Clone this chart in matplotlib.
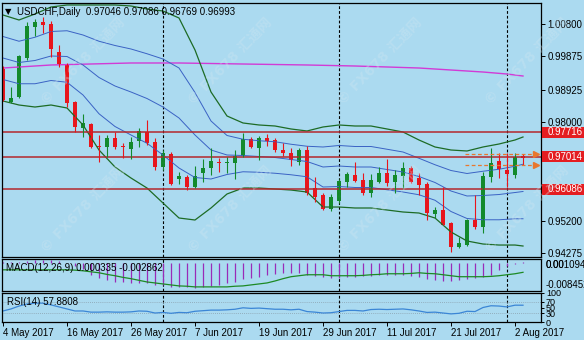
import numpy as np
import matplotlib
matplotlib.use("Agg")
import matplotlib.pyplot as plt
import matplotlib.transforms as mtransforms
from matplotlib.patches import Rectangle

plt.rcParams['font.family'] = ['Liberation Sans', 'DejaVu Sans']

# --- USDCHF daily bars, 4 May 2017 .. 3 Aug 2017 ---
opens = [0.99518, 0.98578, 0.98720, 0.99831, 1.00715, 1.00857, 1.00800, 1.00002, 0.99632, 0.98578,
         0.97837, 0.97951, 0.97324, 0.97296, 0.97552, 0.97324, 0.97239, 0.97467, 0.97723, 0.97438,
         0.96726, 0.97096, 0.96384, 0.96441, 0.96156, 0.96555, 0.96697, 0.96868, 0.96840, 0.96840,
         0.97039, 0.97524, 0.97267, 0.97552, 0.97495, 0.97210, 0.97125, 0.96868, 0.97210, 0.96127,
         0.95928, 0.95529, 0.95757, 0.96298, 0.96498, 0.96355, 0.95985, 0.96298, 0.96555, 0.96298,
         0.96469, 0.96697, 0.96412, 0.96241, 0.95387, 0.95501, 0.95130, 0.94446, 0.94503, 0.95216,
         0.95016, 0.96441, 0.96897, 0.96640, 0.96498, 0.97046]
highs = [0.99603, 0.99005, 0.99917, 1.00857, 1.00942, 1.00999, 1.00885, 1.00202, 0.99689, 0.98606,
         0.98236, 0.97980, 0.97638, 0.97638, 0.97723, 0.97410, 0.97581, 0.97837, 0.98065, 0.97552,
         0.97210, 0.97153, 0.96583, 0.96498, 0.96754, 0.96954, 0.97267, 0.96982, 0.97011, 0.97210,
         0.97695, 0.97581, 0.97609, 0.97666, 0.97552, 0.97410, 0.97267, 0.97267, 0.97324, 0.96441,
         0.95985, 0.95957, 0.96384, 0.96583, 0.96868, 0.96555, 0.96526, 0.96726, 0.96954, 0.96640,
         0.96868, 0.96754, 0.96555, 0.96298, 0.95586, 0.96156, 0.95159, 0.94731, 0.95244, 0.95928,
         0.96583, 0.97267, 0.97125, 0.97125, 0.97125, 0.97086]
lows = [0.98606, 0.98549, 0.98692, 0.99774, 1.00458, 1.00544, 0.99860, 0.99575, 0.98435, 0.97723,
        0.97581, 0.97267, 0.96868, 0.97011, 0.97239, 0.96982, 0.96954, 0.97296, 0.97353, 0.96640,
        0.96640, 0.96213, 0.96241, 0.96070, 0.96127, 0.96298, 0.96498, 0.96583, 0.96555, 0.96384,
        0.97011, 0.97267, 0.96925, 0.97324, 0.97153, 0.97039, 0.96754, 0.96783, 0.95928, 0.95729,
        0.95501, 0.95472, 0.95700, 0.96156, 0.96298, 0.95928, 0.95871, 0.96270, 0.96184, 0.95985,
        0.96127, 0.96270, 0.95928, 0.95216, 0.95273, 0.95073, 0.94304, 0.94418, 0.94475, 0.94959,
        0.94845, 0.96298, 0.96412, 0.96156, 0.96412, 0.96769]
closes = [0.98635, 0.98692, 0.99888, 1.00743, 1.00857, 1.00772, 1.00088, 0.99660, 0.98549, 0.97866,
          0.97980, 0.97296, 0.97296, 0.97552, 0.97296, 0.97296, 0.97438, 0.97752, 0.97410, 0.96726,
          0.97125, 0.96241, 0.96469, 0.96156, 0.96469, 0.96697, 0.96897, 0.96840, 0.96868, 0.97039,
          0.97524, 0.97296, 0.97552, 0.97467, 0.97210, 0.97125, 0.96925, 0.97210, 0.95985, 0.95871,
          0.95529, 0.95871, 0.96327, 0.96526, 0.96327, 0.95985, 0.96355, 0.96555, 0.96270, 0.96498,
          0.96697, 0.96298, 0.96213, 0.95415, 0.95501, 0.95073, 0.94446, 0.94560, 0.95216, 0.95016,
          0.96469, 0.96840, 0.96669, 0.96526, 0.97011, 0.96993]

# Bollinger(20,2) outer band, read every second bar
band_idx = list(range(0, 65, 2)) + [65]
band_upper = [1.01056, 1.00914, 1.01085, 1.01284, 1.01341, 1.01341, 1.01341, 1.01341, 1.01313, 1.01227,
              1.01170, 1.00971, 1.00059, 0.98863, 0.98179, 0.97980, 0.97923, 0.97894, 0.97809, 0.97752,
              0.97866, 0.97923, 0.97894, 0.97894, 0.97809, 0.97723, 0.97495, 0.97296, 0.97210, 0.97182,
              0.97296, 0.97381, 0.97495, 0.97581]
band_lower = [0.98606, 0.98492, 0.98435, 0.98492, 0.98407, 0.97923, 0.97210, 0.96726, 0.96412, 0.96127,
              0.95700, 0.95273, 0.95216, 0.95558, 0.95957, 0.96127, 0.96127, 0.96099, 0.96070, 0.96013,
              0.95586, 0.95586, 0.95558, 0.95558, 0.95501, 0.95444, 0.95415, 0.95273, 0.94874, 0.94618,
              0.94532, 0.94503, 0.94503, 0.94475]

# long moving average (magenta)
ma_idx = [0, 6, 16, 22, 30, 38, 44, 48, 52, 56, 60, 63, 65]
ma_long = [0.99546, 0.99632, 0.99689, 0.99689, 0.99660, 0.99632, 0.99603, 0.99575, 0.99546, 0.99489,
           0.99432, 0.99375, 0.99318]

macd_main = [0.0003, 0.0002, 0.0004, 0.0007, 0.0009, 0.0010, 0.0009, 0.0006, 0.0000, -0.0010,
             -0.0018, -0.0036, -0.0045, -0.0052, -0.0058, -0.0058, -0.0061, -0.0061, -0.0061, -0.0067,
             -0.0067, -0.0073, -0.0073, -0.0073, -0.0076, -0.0073, -0.0070, -0.0067, -0.0061, -0.0058,
             -0.0048, -0.0045, -0.0042, -0.0036, -0.0033, -0.0032, -0.0030, -0.0030, -0.0036, -0.0039,
             -0.0042, -0.0045, -0.0045, -0.0042, -0.0042, -0.0039, -0.0039, -0.0036, -0.0036, -0.0036,
             -0.0036, -0.0039, -0.0042, -0.0048, -0.0052, -0.0055, -0.0055, -0.0052, -0.0048, -0.0045,
             -0.0042, -0.0036, -0.0021, -0.0009, -0.0004, 0.000335]
macd_signal = [-0.0021, -0.0021, -0.0021, -0.0021, -0.0021, -0.0021, -0.0021, -0.0021, -0.0021, -0.0022,
               -0.0024, -0.0027, -0.0030, -0.0035, -0.0039, -0.0044, -0.0048, -0.0053, -0.0058, -0.0061,
               -0.0064, -0.0067, -0.0070, -0.0071, -0.0073, -0.0073, -0.0073, -0.0073, -0.0073, -0.0071,
               -0.0070, -0.0067, -0.0064, -0.0061, -0.0055, -0.0048, -0.0042, -0.0039, -0.0036, -0.0036,
               -0.0036, -0.0039, -0.0039, -0.0039, -0.0039, -0.0038, -0.0036, -0.0035, -0.0033, -0.0033,
               -0.0033, -0.0032, -0.0030, -0.0032, -0.0033, -0.0036, -0.0039, -0.0042, -0.0042, -0.0042,
               -0.0042, -0.0041, -0.0039, -0.0036, -0.0033, -0.002862]
macd_scale = [0.001094, -0.008452]

rsi = [38, 45, 55, 62, 65, 65, 59, 52, 45, 38, 38, 34, 34, 35, 34, 34, 35, 38, 37, 31,
       33, 30, 33, 32, 37, 39, 41, 41, 42, 44, 49, 47, 48, 46, 44, 44, 42, 44, 36, 34,
       31, 32, 36, 40, 40, 38, 43, 44, 43, 44, 45, 42, 38, 33, 34, 31, 28, 30, 37, 36,
       50, 56, 55, 52, 58, 57.8808]
rsi_levels = [100, 70, 50, 30, 0]

date_idx = [0, 8, 16, 24, 32, 40, 48, 56, 64]
date_labels = ['4 May 2017', '16 May 2017', '26 May 2017', '7 Jun 2017', '19 Jun 2017',
               '29 Jun 2017', '11 Jul 2017', '21 Jul 2017', '2 Aug 2017']
month_idx = [20, 42, 63]
levels = [0.97716, 0.97014, 0.96086]
price_ticks = [1.00800, 0.99875, 0.98925, 0.98000, 0.95200, 0.94275]

# --- colours ---
BG = '#abdaf0'
RED = '#e8151c'
GREEN = '#138a2c'
BAND_G = '#1d6b25'
BAND_B = '#3a62c4'
MAGENTA = '#d23ad6'
LEVEL = '#b3282d'

W, H = 584, 340


def px_rect(x0, y0, x1, y1):
    return [x0 / W, 1 - y1 / H, (x1 - x0) / W, (y1 - y0) / H]


fig = plt.figure(figsize=(W / 100, H / 100), dpi=100, facecolor=BG)
ax = fig.add_axes(px_rect(2, 3, 541, 257), facecolor=BG)
ax_m = fig.add_axes(px_rect(2, 259, 541, 291), facecolor=BG, sharex=ax)
ax_r = fig.add_axes(px_rect(2, 293, 541, 322), facecolor=BG, sharex=ax)

for a in (ax, ax_m, ax_r):
    for s in a.spines.values():
        s.set_color('black')
        s.set_linewidth(0.9)
    a.yaxis.tick_right()
    a.tick_params(axis='y', direction='out', length=3, width=0.7, labelsize=7, pad=1.5)
    a.tick_params(axis='x', bottom=False, labelbottom=False)
    for i in month_idx:
        a.axvline(i, color='black', lw=0.8, dashes=(2.5, 1.8))

x = np.arange(len(closes))
ax.set_xlim(-0.125, 67.25)

# --- main panel ---
ax.set_ylim(0.94162, 1.01398)
ax.set_yticks(price_ticks)
ax.set_yticklabels([f'{v:.5f}' for v in price_ticks])

bx = np.array(band_idx)
bu = np.array(band_upper)
bl = np.array(band_lower)
mid = (bu + bl) / 2
sd = (bu - bl) / 4
ax.plot(ma_idx, ma_long, color=MAGENTA, lw=1.0)
for yy in (mid + sd, mid, mid - sd):
    ax.plot(bx, yy, color=BAND_B, lw=0.7)
ax.plot(bx, bu, color=BAND_G, lw=0.9)
ax.plot(bx, bl, color=BAND_G, lw=0.9)

for lv in levels:
    ax.axhline(lv, color=LEVEL, lw=1.1)

o, h, l, c = map(np.array, (opens, highs, lows, closes))
col = np.where(c >= o, GREEN, RED)
ax.vlines(x, l, h, colors=col, lw=0.8)
body = np.maximum(np.abs(c - o), 0.0003)
ax.bar(x, body, bottom=np.minimum(o, c), width=0.62, color=col, linewidth=0)

# high / low markers of the last bar
for v in (highs[-1], lows[-1]):
    ax.plot([57.8, 66.2], [v, v], color='#e8772e', lw=0.9, dashes=(3, 2))
    ax.plot([66.6], [v], marker='>', color='#e8772e', ms=4.5, clip_on=False)

# price labels on the right axis
tr = mtransforms.blended_transform_factory(ax.transAxes, ax.transData)
for lv in levels:
    ax.add_patch(Rectangle((1.002, lv - 0.00157), 0.08, 0.00314, transform=tr,
                           facecolor='#e41d21', edgecolor='none', clip_on=False, zorder=5))
    ax.text(1.012, lv, f'{lv:.5f}', transform=tr, color='white', fontsize=7,
            va='center', ha='left', zorder=6, clip_on=False)

ax.text(0.006, 0.965, '\u25bc', transform=ax.transAxes, fontsize=6, va='center', ha='left',
        family='DejaVu Sans')
ax.text(0.028, 0.965, f'USDCHF,Daily  {opens[-1]:.5f} {highs[-1]:.5f} {lows[-1]:.5f} {closes[-1]:.5f}',
        transform=ax.transAxes, fontsize=7, va='center', ha='left')

# --- MACD panel ---
ax_m.set_ylim(macd_scale[1] - 0.0001, macd_scale[0] + 0.0001)
ax_m.set_yticks([])
ax_m.vlines(x, 0, macd_main, colors='#9a2bb8', lw=0.9)
ax_m.plot(x, macd_signal, color='#1d8a24', lw=0.9)
ax_m.text(0.008, 0.72, f'MACD(12,26,9) {macd_main[-1]:.6f} {macd_signal[-1]:.6f}',
          transform=ax_m.transAxes, fontsize=7, va='center', ha='left')
for lab, yf in (('0.00', 0.8), (f'{macd_scale[0]:.6f}', 0.8), (f'{macd_scale[1]:.6f}', 0.2)):
    ax_m.text(1.008, yf, lab, transform=ax_m.transAxes, fontsize=7, va='center', ha='left',
              clip_on=False)

# --- RSI panel ---
ax_r.set_ylim(0, 100)
ax_r.set_yticks(rsi_levels)
ax_r.set_yticklabels([str(v) for v in rsi_levels])
ax_r.tick_params(axis='y', length=2, labelsize=6.5)
for lv in (70, 30):
    ax_r.axhline(lv, color='#8aa0ad', lw=0.6, dashes=(1, 1.5))
ax_r.plot(x, rsi, color='#3b86d6', lw=0.9)
ax_r.text(0.01, 0.7, f'RSI(14) {rsi[-1]:.4f}', transform=ax_r.transAxes, fontsize=7,
          va='center', ha='left')

ax_r.set_xticks(date_idx)
ax_r.set_xticklabels(date_labels)
ax_r.tick_params(axis='x', bottom=True, labelbottom=True, direction='out', length=3,
                 width=0.7, labelsize=7, pad=1.5)
for t in ax_r.get_xticklabels():
    t.set_horizontalalignment('left')

# faint watermark
for wx in (43, 190, 340, 487):
    for wy in (102, 250):
        fig.text(wx / W, 1 - wy / H, '\u00a9 FX678 汇通网', rotation=46, rotation_mode='anchor',
                 fontsize=10, fontweight='bold', color='#cfe6f2', alpha=0.35,
                 family=['DejaVu Sans', 'Noto Sans CJK SC'], ha='left', va='center')

fig.savefig('out.png', dpi=100, facecolor=BG)
